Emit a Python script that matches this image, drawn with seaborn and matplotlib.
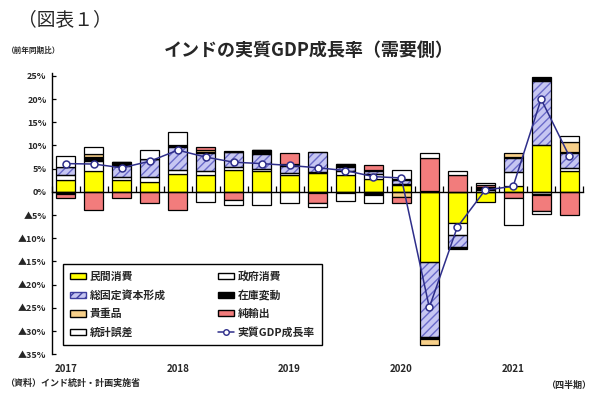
import numpy as np
import pandas as pd
import matplotlib
matplotlib.use("Agg")
import matplotlib.pyplot as plt
import seaborn as sns
from matplotlib.patches import Patch
from matplotlib.lines import Line2D

# ---------------- data (contribution to real GDP growth, % pts) ----------------
quarters = ["2017Q1", "2017Q2", "2017Q3", "2017Q4",
            "2018Q1", "2018Q2", "2018Q3", "2018Q4",
            "2019Q1", "2019Q2", "2019Q3", "2019Q4",
            "2020Q1", "2020Q2", "2020Q3", "2020Q4",
            "2021Q1", "2021Q2", "2021Q3"]
private_cons = [2.5, 4.4, 2.5, 2.1, 3.9, 3.7, 4.7, 4.6, 3.6, 4.0, 3.6, 2.8, 1.4, -15.2, -6.6, -2.1, 1.3, 10.1, 4.5]
gov_cons     = [1.2, 2.2, 0.7, 1.1, 0.9, 0.7, 0.7, 0.3, 0.5, 0.3, 1.0, 1.0, 0.3, 0.3, -2.7, 0.4, 2.9, -0.4, 0.7]
gfcf         = [1.7, 0.3, 2.4, 3.9, 4.9, 4.0, 3.3, 3.2, 1.4, 4.2, 0.8, 0.6, 0.8, -16.0, -2.5, 0.2, 3.1, 13.8, 3.2]
inventories  = [-0.4, 0.7, 0.9, 0.0, 0.5, 0.3, 0.0, 0.9, 0.6, -0.3, 0.6, -0.6, 0.3, -0.6, -0.4, 0.2, 0.2, 0.9, 0.2]
valuables    = [0.0, 0.6, 0.0, 0.0, 0.0, 0.3, 0.2, 0.0, 0.0, 0.0, 0.0, 0.3, -1.0, -1.3, 0.0, 0.2, 0.9, -0.2, 2.1]
net_exports  = [-0.9, -4.0, -1.3, -2.5, -4.0, 0.7, -1.7, 0.0, 2.3, -2.2, -0.3, 1.0, -1.4, 7.0, 3.7, 0.5, -1.4, -3.5, -4.9]
discrepancy  = [2.3, 1.4, 0.0, 1.9, 2.7, -2.2, -1.1, -2.9, -2.5, -0.8, -1.6, -1.8, 2.0, 1.0, 0.8, 0.4, -5.7, -0.6, 1.4]
gdp_growth   = [6.1, 6.0, 5.2, 6.6, 9.0, 7.5, 6.4, 6.1, 5.7, 5.2, 4.6, 3.3, 3.0, -24.9, -7.6, 0.4, 1.2, 20.0, 7.8]

year_labels = ["2017", "2018", "2019", "2020", "2021"]
year_pos = [0, 4, 8, 12, 16]
ytick_vals = [25, 20, 15, 10, 5, 0, -5, -10, -15, -20, -25, -30, -35]
ytick_labels = ["25%", "20%", "15%", "10%", "5%", "0%", "▲5%", "▲10%",
                "▲15%", "▲20%", "▲25%", "▲30%", "▲35%"]

series_names = ["民間消費", "政府消費", "総固定資本形成", "在庫変動", "貴重品", "純輸出", "統計誤差"]
series_vals = [private_cons, gov_cons, gfcf, inventories, valuables, net_exports, discrepancy]
series_colors = ["#FFFF00", "#FFFFFF", "#C6C6F2", "#000000", "#F7D08A", "#F27C7C", "#FFFFFF"]

# ---------------- style ----------------
sns.set_style("white")
plt.rcParams["font.family"] = ["Noto Sans CJK JP", "DejaVu Sans"]
plt.rcParams["hatch.linewidth"] = 1.0

fig = plt.figure(figsize=(6.0, 4.07), dpi=100)
ax = fig.add_axes([0.0867, 0.1295, 0.885, 0.692])

n = len(quarters)
xpos = np.arange(n)
pos_base = np.zeros(n)
neg_base = np.zeros(n)
bar_w = 0.68
navy = "#2E2E8A"

for name, vals, col in zip(series_names, series_vals, series_colors):
    v = np.array(vals, dtype=float)
    bottoms = np.where(v >= 0, pos_base, neg_base)
    df = pd.DataFrame({"q": quarters, "v": v})
    if name == "総固定資本形成":
        sns.barplot(data=df, x="q", y="v", order=quarters, bottom=bottoms,
                    color=col, saturation=1, width=bar_w, hatch="////",
                    edgecolor="#6B6BC9", linewidth=0, errorbar=None, ax=ax, zorder=2)
        ax.bar(xpos, v, bottom=bottoms, width=bar_w, fill=False,
               edgecolor="black", linewidth=0.9, zorder=3)
    else:
        sns.barplot(data=df, x="q", y="v", order=quarters, bottom=bottoms,
                    color=col, saturation=1, width=bar_w, edgecolor="black",
                    linewidth=0.9, errorbar=None, ax=ax, zorder=3)
    pos_base = pos_base + np.where(v > 0, v, 0)
    neg_base = neg_base + np.where(v < 0, v, 0)

line_df = pd.DataFrame({"x": xpos, "g": gdp_growth})
sns.lineplot(data=line_df, x="x", y="g", color=navy, linewidth=1.1, marker="o",
             markersize=5, markerfacecolor="white", markeredgecolor=navy,
             markeredgewidth=1.1, ax=ax, zorder=6, legend=False)

# ---------------- axes ----------------
ax.set_xlim(-0.47, n - 0.5)
ax.set_ylim(-35, 25.7)
ax.set_xlabel("")
ax.set_ylabel("")
for s in ["top", "right"]:
    ax.spines[s].set_visible(False)
ax.spines["left"].set_linewidth(1.0)
ax.spines["left"].set_color("black")
ax.spines["bottom"].set_position(("data", 0))
ax.spines["bottom"].set_linewidth(1.0)
ax.spines["bottom"].set_color("black")
ax.spines["bottom"].set_zorder(4)

ax.set_xticks([])
ax.set_xticks(np.arange(-0.5, n, 1.0), minor=True)
ax.tick_params(axis="x", which="minor", direction="in", length=4, width=0.9,
               color="black", labelbottom=False, bottom=True)

ax.set_yticks(ytick_vals)
ax.set_yticklabels(ytick_labels, fontsize=6.5, fontweight="bold")
ax.tick_params(axis="y", direction="in", length=3, width=0.9, color="black",
               left=True, pad=4)

sec = ax.secondary_xaxis(0)
sec.set_xticks(year_pos)
sec.set_xticklabels(year_labels, fontsize=7, fontweight="bold")
sec.tick_params(length=0, pad=7)
sec.spines["bottom"].set_visible(False)

# ---------------- legend ----------------
def patch(i):
    if series_names[i] == "総固定資本形成":
        return Patch(facecolor=series_colors[i], edgecolor="#3F3F9F", hatch="////",
                     linewidth=1.0, label=series_names[i])
    return Patch(facecolor=series_colors[i], edgecolor="black", linewidth=1.0,
                 label=series_names[i])

line_handle = Line2D([], [], color=navy, linewidth=1.1, marker="o", markersize=4,
                     markerfacecolor="white", markeredgecolor=navy,
                     label="実質GDP成長率")
handles = [patch(0), patch(2), patch(4), patch(6),
           patch(1), patch(3), patch(5), line_handle]
leg = ax.legend(handles=handles, ncol=2, loc="lower left",
                bbox_to_anchor=(0.0207, 0.033, 0.487, 0.327), mode="expand",
                frameon=True, fancybox=False, edgecolor="black", framealpha=1,
                prop={"size": 7.8, "weight": "bold",
                      "family": ["Noto Sans CJK JP", "DejaVu Sans"]},
                handlelength=1.5, handleheight=0.55, handletextpad=0.3,
                labelspacing=0.75, borderaxespad=0, columnspacing=1.0,
                borderpad=0.65)
leg.get_frame().set_linewidth(1.0)
leg.set_zorder(10)

# ---------------- texts ----------------
fig.text(0.03, 0.951, "（図表１）", fontsize=13.5, ha="left", va="center")
fig.text(0.012, 0.877, "（前年同期比）", fontsize=5.5, fontweight="bold",
         ha="left", va="center")
fig.text(0.515, 0.877, "インドの実質GDP成長率（需要側）", fontsize=13,
         fontweight="bold", ha="center", va="center")
fig.text(0.008, 0.058, "（資料）インド統計・計画実施省", fontsize=6.5,
         fontweight="bold", ha="left", va="center")
fig.text(0.985, 0.053, "（四半期）", fontsize=6.5, fontweight="bold",
         ha="right", va="center")

fig.savefig("out.png", dpi=100)
